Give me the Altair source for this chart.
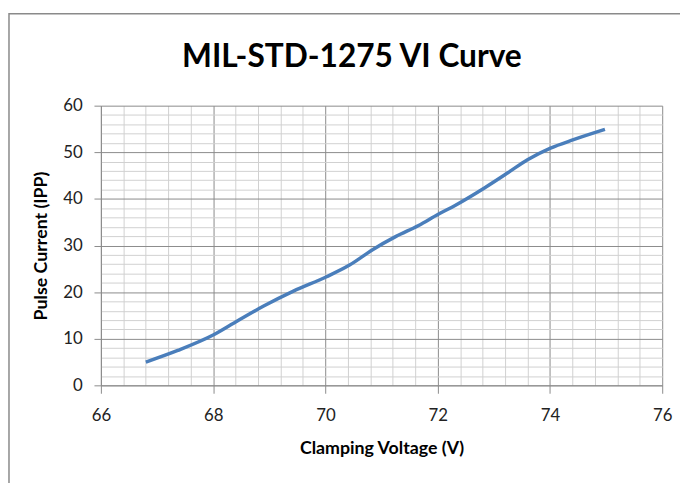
import altair as alt
import pandas as pd

voltage = [66.8, 67.37, 68.0, 68.43, 68.9, 69.43, 70.02, 70.43, 70.84, 71.25, 71.66, 72.01, 72.31, 72.84, 73.25, 73.6, 74.01, 74.42, 74.98]
current = [5.0, 7.5, 10.8, 13.8, 17.0, 20.2, 23.3, 25.8, 29.1, 31.9, 34.3, 36.7, 38.6, 42.4, 45.6, 48.4, 50.9, 52.7, 54.9]

x_grid = [round(66 + 0.4 * i, 1) for i in range(26)]
y_grid = [2 * i for i in range(31)]

title_text = ["MIL-STD-1275 VI Curve"]

df = pd.DataFrame({"v": voltage, "i": current})

FONT = "Lato"
MAJOR = "#8a8a8a"
MINOR = "#d0d0d0"

x_major = "abs(datum.value - 2*round(datum.value/2)) < 0.001"
y_major = "abs(datum.value - 10*round(datum.value/10)) < 0.001"

xaxis = alt.Axis(
    values=x_grid,
    gridColor={"condition": {"test": x_major, "value": MAJOR}, "value": MINOR},
    tickOpacity={"condition": {"test": x_major, "value": 1}, "value": 0},
    labelExpr=f"({x_major}) ? format(datum.value, 'd') : ''",
    tickSize=8, tickColor=MAJOR, domainColor=MAJOR,
    labelFont=FONT, labelFontSize=17, labelColor="#222", labelPadding=15,
    labelFlush=False, labelOverlap=False,
    title="Clamping Voltage (V)", titleFont=FONT, titleFontSize=18,
    titleFontWeight="bold", titleColor="#000", titlePadding=16,
)
yaxis = alt.Axis(
    values=y_grid,
    gridColor={"condition": {"test": y_major, "value": MAJOR}, "value": MINOR},
    tickOpacity={"condition": {"test": y_major, "value": 1}, "value": 0},
    labelExpr=f"({y_major}) ? format(datum.value, 'd') : ''",
    tickSize=7, tickColor=MAJOR, domainColor=MAJOR,
    labelFont=FONT, labelFontSize=17, labelColor="#222", labelPadding=12,
    labelFlush=False, labelOverlap=False,
    title="Pulse Current (IPP)", titleFont=FONT, titleFontSize=18,
    titleFontWeight="bold", titleColor="#000", titlePadding=12,
)

line = alt.Chart(df).mark_line(
    color="#4a7ebb", strokeWidth=3.5, interpolate="monotone"
).encode(
    x=alt.X("v:Q", scale=alt.Scale(domain=[66, 76], nice=False, zero=False), axis=xaxis),
    y=alt.Y("i:Q", scale=alt.Scale(domain=[0, 60], nice=False), axis=yaxis),
)

frame = alt.Chart(pd.DataFrame({"a": [0]})).mark_rect(
    fill=None, stroke="#8a8a8a", strokeWidth=1.5
).encode(
    x=alt.value(-93), x2=alt.value(700), y=alt.value(-93), y2=alt.value(600)
)

title = alt.Chart(pd.DataFrame({"t": title_text})).mark_text(
    font=FONT, fontSize=32, fontWeight="bold", color="#000",
    align="center", baseline="middle"
).encode(
    text="t:N", x=alt.value(254), y=alt.value(-49)
)

chart = alt.layer(line, frame, title).properties(
    width=568, height=283,
    autosize=alt.AutoSizeParams(type="none"),
    padding={"left": 94, "top": 96, "right": 18, "bottom": 96},
).configure_view(stroke=None)

chart.save("out.html", embed_options={"renderer": "svg", "actions": False})
